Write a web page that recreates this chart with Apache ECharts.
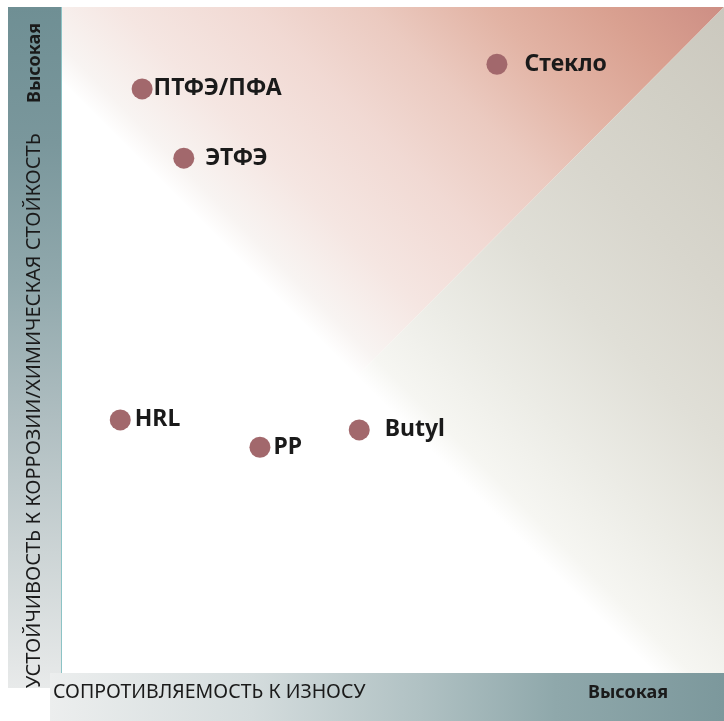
<!DOCTYPE html>
<html>
<head>
<meta charset="utf-8">
<script src="https://cdn.jsdelivr.net/npm/echarts@6/dist/echarts.min.js"></script>
<style>
html,body{margin:0;padding:0;background:#fff;}
#chart{width:724px;height:721px;}
</style>
</head>
<body>
<div id="chart"></div>
<script>
// ---- data ----
const materials = ['ПТФЭ/ПФА', 'ЭТФЭ', 'Стекло', 'HRL', 'PP', 'Butyl'];
const wearResistance = [12.1, 18.4, 65.7, 8.8, 29.9, 44.9];      // x
const corrosionResistance = [87.7, 77.3, 91.4, 38.0, 33.9, 36.5]; // y
const xAxisTitle = 'СОПРОТИВЛЯЕМОСТЬ К ИЗНОСУ';
const yAxisTitle = 'УСТОЙЧИВОСТЬ К КОРРОЗИИ/ХИМИЧЕСКАЯ СТОЙКОСТЬ';
const highLabel = 'Высокая';

// decorative background zones (data coordinates)
const edgeSum = 89;   // x + y at the start of the shaded zone
const labelGap = {'ПТФЭ/ПФА': 1, 'ЭТФЭ': 11, 'Стекло': 17, 'HRL': 4, 'PP': 3, 'Butyl': 15};

const chart = echarts.init(document.getElementById('chart'));

const pinkStops = [
  {offset: 0, color: '#ffffff'},
  {offset: 0.05, color: '#f8f4f2'},
  {offset: 0.18, color: '#f5e6e2'},
  {offset: 0.36, color: '#f1d9d3'},
  {offset: 0.52, color: '#ebcac0'},
  {offset: 0.68, color: '#e2b3a4'},
  {offset: 0.84, color: '#d9a090'},
  {offset: 1, color: '#cd8e84'}
];
const greyStops = [
  {offset: 0, color: '#ffffff'},
  {offset: 0.05, color: '#f6f6f2'},
  {offset: 0.2, color: '#ecece6'},
  {offset: 0.4, color: '#e0dfd7'},
  {offset: 0.6, color: '#d8d6cd'},
  {offset: 0.8, color: '#d1cfc5'},
  {offset: 1, color: '#cbc8be'}
];

function bgRender(params, api) {
  const a = api.coord([edgeSum / 2, edgeSum / 2]);
  const b = api.coord([100, 100]);
  const grad = (stops) => new echarts.graphic.LinearGradient(a[0], a[1], b[0], b[1], stops, true);
  const pink = [[0, edgeSum], [0, 100], [100, 100], [edgeSum / 2, edgeSum / 2]].map(p => api.coord(p));
  const grey = [[edgeSum / 2, edgeSum / 2], [100, 100], [100, 0], [edgeSum, 0]].map(p => api.coord(p));
  return {
    type: 'group',
    children: [
      {type: 'polygon', shape: {points: pink}, style: {fill: grad(pinkStops)}},
      {type: 'polygon', shape: {points: grey}, style: {fill: grad(greyStops)}}
    ]
  };
}

const points = materials.map((m, i) => ({
  name: m,
  value: [wearResistance[i], corrosionResistance[i]],
  label: {distance: labelGap[m]}
}));

const font = '"Noto Sans", "Open Sans", sans-serif';

chart.setOption({
  animation: false,
  grid: {left: 62, right: 0, top: 7, bottom: 48},
  xAxis: {type: 'value', min: 0, max: 100, show: false},
  yAxis: {type: 'value', min: 0, max: 100, show: false},
  graphic: [
    {type: 'rect', left: 8, top: 7, shape: {width: 54, height: 681}, z: -1,
      style: {fill: new echarts.graphic.LinearGradient(0, 0, 0, 1, [
        {offset: 0, color: '#6f8f94'},
        {offset: 0.2, color: '#7a979c'},
        {offset: 0.4, color: '#90a8ac'},
        {offset: 0.6, color: '#aebdc0'},
        {offset: 0.8, color: '#ccd4d5'},
        {offset: 1, color: '#e8eaea'}
      ])}},
    {type: 'rect', left: 61, top: 7, shape: {width: 1, height: 666}, z: -1, style: {fill: '#8cc3c5'}},
    {type: 'rect', left: 50, top: 673, shape: {width: 674, height: 48}, z: -1,
      style: {fill: new echarts.graphic.LinearGradient(0, 0, 1, 0, [
        {offset: 0, color: '#eceeee'},
        {offset: 0.3, color: '#d4dcdd'},
        {offset: 0.55, color: '#b0c1c3'},
        {offset: 0.75, color: '#8fa8ab'},
        {offset: 1, color: '#7c989c'}
      ])}},
    {type: 'text', x: 34, y: 688, rotation: Math.PI / 2,
      style: {text: yAxisTitle, font: '20px ' + font, fill: '#1a1a1a', textAlign: 'left', textVerticalAlign: 'middle'}},
    {type: 'text', x: 35, y: 63, rotation: Math.PI / 2,
      style: {text: highLabel, font: 'bold 18px ' + font, fill: '#1a1a1a', textAlign: 'center', textVerticalAlign: 'middle'}},
    {type: 'text', x: 53, y: 692,
      style: {text: xAxisTitle, font: '19.5px ' + font, fill: '#1a1a1a', textAlign: 'left', textVerticalAlign: 'middle'}},
    {type: 'text', x: 628, y: 693,
      style: {text: highLabel, font: 'bold 18px ' + font, fill: '#1a1a1a', textAlign: 'center', textVerticalAlign: 'middle'}}
  ],
  series: [
    {type: 'custom', renderItem: bgRender, data: [0], silent: true, z: 0, clip: true},
    {
      type: 'scatter', z: 5,
      symbolSize: 21,
      itemStyle: {color: '#a2686c', opacity: 1},
      label: {show: true, position: 'right', formatter: '{b}', color: '#1a1a1a',
        fontFamily: font, fontWeight: 'bold', fontSize: 23, opacity: 1},
      data: points
    }
  ]
});
</script>
</body>
</html>
